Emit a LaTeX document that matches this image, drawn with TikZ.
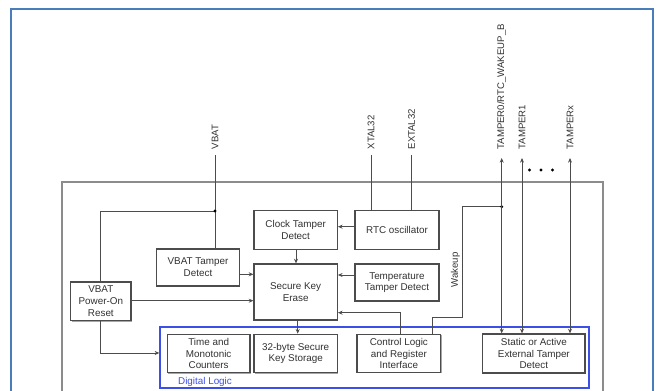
\documentclass[tikz,border=0pt]{standalone}
\usepackage{fontspec}
\setmainfont{Liberation Sans}
\usetikzlibrary{arrows.meta,shadows}
\definecolor{frameblue}{RGB}{74,126,187}
\definecolor{dlblue}{RGB}{60,80,230}
\definecolor{ink}{RGB}{50,50,50}
\newcommand\mkbox[6]{\node[box, minimum width={(#4-#2)*0.75pt}, minimum height={(#5-#3)*0.75pt}] (#1) at ({(#2+#4)/2},{(#3+#5)/2}) {#6};}
\begin{document}
\begin{tikzpicture}[x=0.75pt,y=-0.75pt,
  box/.style={draw=black!70, line width=0.9pt, inner sep=0pt, align=center,
    font=\fontsize{7.4}{8.8}\selectfont, text=ink, fill=white,
    drop shadow={shadow xshift=0.7pt, shadow yshift=-0.7pt, fill=black!35, opacity=1}},
  wire/.style={draw=black!70, line width=0.6pt},
  arr/.style={wire, -{Stealth[length=3.5pt,width=3pt]}},
  biarr/.style={wire, {Stealth[length=3.5pt,width=3pt]}-{Stealth[length=3.5pt,width=3pt]}},
  dot/.style={circle, fill=black, inner sep=0pt, minimum size=2.6pt},
  pinlbl/.style={rotate=90, anchor=west, inner sep=1pt, font=\fontsize{7.2}{8.6}\selectfont, text=ink},
  lbl/.style={font=\fontsize{7.2}{8.6}\selectfont, text=ink, inner sep=0pt}]
\clip (0,0) rectangle (661,391);
\fill[white] (0,0) rectangle (661,391);
% frames
\draw[frameblue, line width=1.2pt] (11,400) -- (11,9.3) -- (652.7,9.3) -- (652.7,400);
\draw[black!45, line width=1.3pt] (62,400) -- (62,181.7) -- (603,181.7) -- (603,400);
\node[draw=dlblue, line width=1pt, inner sep=0pt, minimum width={429*0.75pt}, minimum height={61*0.75pt}] (dl) at (374.5,357.5) {};
\node[lbl, text=dlblue, font=\fontsize{7.4}{8.8}\selectfont] (dllbl) at (205,381.5) {Digital Logic};
% boxes
\mkbox{por}{70.7}{282}{131}{320.7}{VBAT\\Power-On\\Reset}
\mkbox{vtd}{156.7}{249}{239.3}{286}{VBAT Tamper\\Detect}
\mkbox{ctd}{254}{210.7}{337.3}{249.3}{Clock Tamper\\Detect}
\mkbox{rtc}{355}{210.7}{439}{249.3}{RTC oscillator}
\mkbox{ske}{254}{264}{337.3}{320}{Secure Key\\Erase}
\mkbox{ttd}{355}{264}{439}{301}{Temperature\\Tamper Detect}
\mkbox{tmc}{167.3}{334.3}{250}{372.7}{Time and\\Monotonic\\Counters}
\mkbox{kst}{254}{334.3}{337.3}{372.7}{32-byte Secure\\Key Storage}
\mkbox{cli}{357}{334.5}{440.7}{372.5}{Control Logic\\and Register\\Interface}
\mkbox{ext}{482.7}{334}{585}{373}{Static or Active\\External Tamper\\Detect}
% pins
\coordinate (vbatpin) at (215,155);
\coordinate (xtal) at (371,155);
\coordinate (extal) at (411.5,155);
\coordinate (tp0) at (501.7,158);
\coordinate (tp1) at (522,158);
\coordinate (tpx) at (570,158);
\node[pinlbl] (vbatlbl) at (215,151) {VBAT};
\node[pinlbl] (xtallbl) at (371,151) {XTAL32};
\node[pinlbl] (extallbl) at (411.5,151) {EXTAL32};
\node[pinlbl] (tp0lbl) at (501.7,151) {TAMPER0/RTC\_WAKEUP\_B};
\node[pinlbl] (tp1lbl) at (522,151) {TAMPER1};
\node[pinlbl] (tpxlbl) at (570,151) {TAMPERx};
\node[dot, minimum size=2.4pt] (d1) at (529.5,170) {};
\node[dot, minimum size=2.4pt] (d2) at (541,170) {};
\node[dot, minimum size=2.4pt] (d3) at (552.5,170) {};
% VBAT wiring
\coordinate (vj) at (215,211);
\coordinate (vc) at (100.7,211);
\draw[wire] (vbatpin) -- (vtd.north -| vbatpin);
\draw[wire] (vj) -- (vc) -- (por.north -| vc);
\node[dot] (vjdot) at (vj) {};
\draw[arr] (vtd.east |- 0,274.3) -- (ske.west |- 0,274.3);
\draw[arr] (por.east |- 0,300.7) -- (ske.west |- 0,300.7);
\draw[arr] (por.south) |- (dl.west |- 0,353);
% RTC wiring
\draw[wire] (xtal) -- (rtc.north -| xtal);
\draw[wire] (extal) -- (rtc.north -| extal);
\draw[arr] (rtc.west |- 0,226.7) -- (ctd.east |- 0,226.7);
\draw[arr] (ctd.south -| 296,0) -- (ske.north -| 296,0);
\draw[arr] (ttd.west |- 0,275) -- (ske.east |- 0,275);
\draw[arr] (cli.north -| 400.7,0) |- (ske.east |- 0,312.7);
\draw[arr] (ske.south -| 297.7,0) -- (kst.north -| 297.7,0);
% wakeup
\coordinate (wk) at (462.7,206.7);
\coordinate (t0j) at (501.7,206.7);
\draw[wire] (cli.north -| 432,0) |- (wk |- 0,317) -- (wk) -- (t0j);
\node[dot] (t0dot) at (t0j) {};
\node[lbl, rotate=90] (wklbl) at (455.5,270) {Wakeup};
% tamper pins
\draw[biarr] (tp0) -- (ext.north -| tp0);
\draw[biarr] (tp1) -- (ext.north -| tp1);
\draw[biarr] (tpx) -- (ext.north -| tpx);
\end{tikzpicture}
\end{document}
